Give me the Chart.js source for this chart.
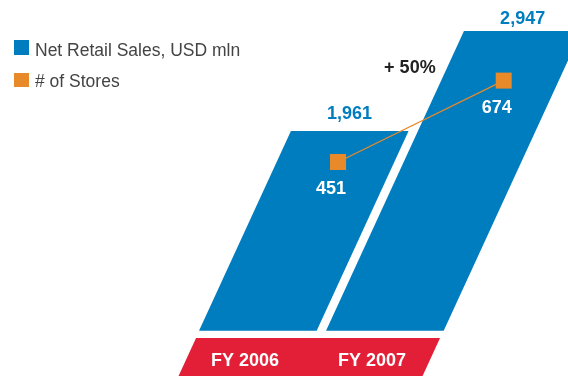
<!DOCTYPE html>
<html><head><meta charset="utf-8">
<script src="https://cdn.jsdelivr.net/npm/chart.js@4"></script>
<style>html,body{margin:0;padding:0;background:#fff}</style>
</head><body>
<canvas id="c" width="568" height="376" style="display:block;width:568px;height:376px"></canvas>
<script>
const categories = ['FY 2006', 'FY 2007'];
const salesValues = [1961, 2947];
const salesLabels = ['1,961', '2,947'];
const storeValues = [451, 674];
const storeLabels = ['451', '674'];
const growthLabel = '+ 50%';
const seriesNames = ['Net Retail Sales, USD mln', '# of Stores'];

const BLUE = '#007dbf', ORANGE = '#e8892a', RED = '#e21f37';
const FONT = "'Liberation Sans', Arial, Helvetica, sans-serif";
const K = 0.46;      // bar slant
const PK = 0.475;    // point slant

const slantPlugin = {
  id: 'slant',
  afterDatasetsUpdate(chart) {
    const base = chart.scales.y.getPixelForValue(0);
    chart.getDatasetMeta(0).data.forEach(p => { p.x += PK * (base - p.y); });
  },
  beforeDatasetDraw(chart, args) {
    if (args.index !== 1) return;
    const base = chart.scales.y.getPixelForValue(0);
    chart.ctx.save();
    chart.ctx.transform(1, 0, -K, 1, K * base, 0);
  },
  afterDatasetDraw(chart, args) {
    if (args.index !== 1) return;
    chart.ctx.restore();
  },
  beforeDatasetsDraw(chart) {
    const ctx = chart.ctx;
    const base = chart.scales.y.getPixelForValue(0);
    const bars = chart.getDatasetMeta(1).data;
    const left = bars[0].x - bars[0].width / 2;
    const right = bars[1].x + bars[1].width / 2;
    const yT = base + 7.5, yB = chart.height;
    const sx = (x, y) => x + K * (base - y);
    ctx.save();
    ctx.fillStyle = RED;
    ctx.beginPath();
    ctx.moveTo(sx(left, yT), yT);
    ctx.lineTo(sx(right, yT), yT);
    ctx.lineTo(sx(right, yB), yB);
    ctx.lineTo(sx(left, yB), yB);
    ctx.closePath();
    ctx.fill();
    ctx.fillStyle = '#fff';
    ctx.font = 'bold 18px ' + FONT;
    ctx.textAlign = 'center';
    ctx.textBaseline = 'middle';
    const ly = (yT + yB) / 2 + 4;
    bars.forEach((b, i) => ctx.fillText(categories[i], sx(b.x, ly) + 1, ly));
    ctx.restore();
  },
  afterDatasetsDraw(chart) {
    const ctx = chart.ctx;
    const base = chart.scales.y.getPixelForValue(0);
    const bars = chart.getDatasetMeta(1).data;
    const pts = chart.getDatasetMeta(0).data;
    const full = { left: 0, top: 0, right: chart.width, bottom: chart.height };
    pts.forEach(p => p.draw(ctx, full));
    ctx.save();
    ctx.textAlign = 'center';
    ctx.textBaseline = 'alphabetic';
    ctx.font = 'bold 18px ' + FONT;
    ctx.fillStyle = BLUE;
    const offs = [12, 7];
    bars.forEach((b, i) => ctx.fillText(salesLabels[i], b.x + K * (base - b.y), b.y - offs[i]));
    ctx.fillStyle = '#fff';
    ctx.textBaseline = 'middle';
    pts.forEach((p, i) => ctx.fillText(storeLabels[i], p.x - 7, p.y + 27));
    ctx.fillStyle = '#222';
    const mx = (pts[0].x + pts[1].x) / 2, my = (pts[0].y + pts[1].y) / 2;
    ctx.fillText(growthLabel, mx - 11, my - 53);
    // legend
    ctx.textAlign = 'left';
    ctx.font = '17.5px ' + FONT;
    ctx.fillStyle = BLUE;
    ctx.fillRect(14, 40, 15, 15);
    ctx.fillStyle = ORANGE;
    ctx.fillRect(14, 73, 15, 14);
    ctx.fillStyle = '#444';
    ctx.textBaseline = 'alphabetic';
    ctx.fillText(seriesNames[0], 35, 56);
    ctx.fillText(seriesNames[1], 35, 87);
    ctx.restore();
  }
};

new Chart(document.getElementById('c'), {
  data: {
    labels: categories,
    datasets: [
      {
        type: 'line', data: storeValues, yAxisID: 'y2', order: 0, clip: false,
        borderColor: ORANGE, borderWidth: 1.2, tension: 0,
        pointStyle: 'rect', pointRadius: 11.3, pointBorderWidth: 0,
        pointBackgroundColor: ORANGE, pointBorderColor: ORANGE
      },
      {
        type: 'bar', data: salesValues, yAxisID: 'y', order: 1, clip: false,
        backgroundColor: BLUE, borderWidth: 0, barThickness: 117
      }
    ]
  },
  options: {
    responsive: false, animation: false, events: [],
    layout: { autoPadding: false, padding: { left: 194.5, right: 119.5, top: 0, bottom: 45.5 } },
    plugins: { legend: { display: false }, tooltip: { enabled: false } },
    scales: {
      x: { type: 'category', display: false, offset: true, grid: { display: false } },
      y: { display: false, min: 0, max: 3255 },
      y2: { display: false, min: -11, max: 895 }
    }
  },
  plugins: [slantPlugin]
});
</script>
</body></html>
